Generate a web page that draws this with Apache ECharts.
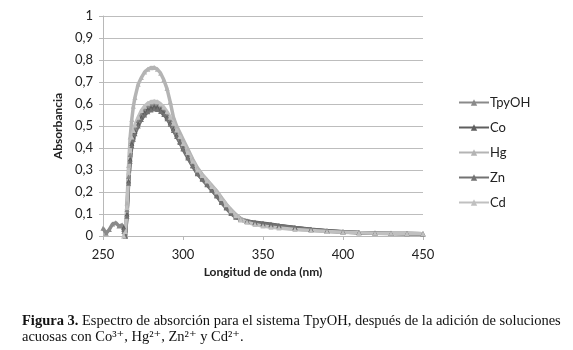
<!DOCTYPE html>
<html>
<head>
<meta charset="utf-8">
<script src="https://cdn.jsdelivr.net/npm/echarts@6/dist/echarts.min.js"></script>
<style>
  html, body { margin: 0; padding: 0; background: #fff; }
  #chart { width: 573px; height: 350px; }
</style>
</head>
<body>
<div id="chart"></div>
<script>
const FONT = "Lato, 'Open Sans', sans-serif"
const SERIF = "'Liberation Serif', 'DejaVu Serif', serif"

// wavelengths (nm)
const wavelengths = [250, 252, 254, 256, 258, 260, 262, 263, 264, 265, 266, 267, 268, 269, 270, 272, 274, 276, 278, 280, 282, 284, 286, 288, 290, 292, 294, 296, 298, 300, 303, 306, 309, 312, 315, 318, 321, 324, 327, 330, 333, 336, 340, 345, 350, 355, 360, 370, 380, 390, 400, 410, 420, 430, 440, 450]

const tpyoh = [0.035, 0.012, 0.03, 0.055, 0.06, 0.045, 0.05, 0.02, 0.0, 0.12, 0.27, 0.37, 0.43, 0.46, 0.49, 0.525, 0.555, 0.575, 0.59, 0.598, 0.602, 0.6, 0.59, 0.575, 0.555, 0.53, 0.5, 0.47, 0.44, 0.41, 0.37, 0.33, 0.29, 0.265, 0.24, 0.215, 0.19, 0.16, 0.135, 0.11, 0.09, 0.078, 0.068, 0.06, 0.055, 0.05, 0.046, 0.038, 0.03, 0.024, 0.019, 0.016, 0.014, 0.012, 0.011, 0.01]
const co = [null, null, null, null, null, null, null, 0.04, 0.0, 0.1, 0.25, 0.35, 0.42, 0.45, 0.475, 0.51, 0.54, 0.56, 0.575, 0.583, 0.587, 0.585, 0.575, 0.56, 0.54, 0.515, 0.487, 0.46, 0.43, 0.4, 0.36, 0.32, 0.285, 0.26, 0.235, 0.21, 0.185, 0.155, 0.13, 0.105, 0.087, 0.076, 0.068, 0.062, 0.058, 0.053, 0.048, 0.039, 0.031, 0.024, 0.019, 0.016, 0.014, 0.012, 0.011, 0.01]
const hg = [null, null, null, null, null, null, null, 0.0, 0.02, 0.15, 0.32, 0.45, 0.53, 0.59, 0.63, 0.69, 0.72, 0.745, 0.758, 0.765, 0.766, 0.758, 0.74, 0.71, 0.67, 0.61, 0.54, 0.5, 0.47, 0.44, 0.395, 0.35, 0.31, 0.28, 0.255, 0.23, 0.205, 0.175, 0.145, 0.12, 0.098, 0.08, 0.066, 0.056, 0.048, 0.043, 0.039, 0.032, 0.026, 0.021, 0.018, 0.015, 0.013, 0.012, 0.011, 0.01]
const zn = [null, null, null, null, null, null, null, 0.03, 0.0, 0.09, 0.24, 0.34, 0.41, 0.44, 0.465, 0.5, 0.53, 0.55, 0.565, 0.573, 0.577, 0.575, 0.566, 0.552, 0.533, 0.508, 0.48, 0.452, 0.425, 0.395, 0.355, 0.318, 0.283, 0.258, 0.233, 0.208, 0.182, 0.152, 0.127, 0.102, 0.085, 0.074, 0.066, 0.06, 0.056, 0.051, 0.047, 0.038, 0.03, 0.023, 0.018, 0.015, 0.013, 0.011, 0.01, 0.009]
const cd = [null, null, null, null, null, null, null, 0.0, 0.02, 0.13, 0.29, 0.39, 0.45, 0.48, 0.505, 0.54, 0.57, 0.59, 0.603, 0.61, 0.613, 0.61, 0.6, 0.585, 0.565, 0.54, 0.512, 0.482, 0.452, 0.42, 0.38, 0.34, 0.3, 0.275, 0.25, 0.225, 0.2, 0.17, 0.142, 0.115, 0.092, 0.075, 0.062, 0.052, 0.045, 0.04, 0.036, 0.03, 0.025, 0.02, 0.017, 0.015, 0.013, 0.012, 0.011, 0.01]

const seriesNames = ['TpyOH', 'Co', 'Hg', 'Zn', 'Cd']
const seriesValues = [tpyoh, co, hg, zn, cd]
const seriesColors = ['#8a8a8a', '#5e5e5e', '#b4b4b4', '#727272', '#c0c0c0']

const xTicks = [250, 300, 350, 400, 450]
const yTickLabels = ['0', '0,1', '0,2', '0,3', '0,4', '0,5', '0,6', '0,7', '0,8', '0,9', '1']

const chart = echarts.init(document.getElementById('chart'))

chart.setOption({
  animation: false,
  backgroundColor: '#fff',
  grid: { left: 103, right: 150, top: 16, bottom: 114 },
  legend: {
    orient: 'vertical',
    left: 453,
    top: 91,
    itemWidth: 30,
    itemHeight: 8,
    itemGap: 12,
    textStyle: { fontFamily: FONT, fontSize: 13, color: '#222', padding: [0, 0, 0, -4] },
    data: seriesNames,
  },
  xAxis: {
    type: 'value',
    min: xTicks[0],
    max: xTicks[xTicks.length - 1],
    interval: 50,
    name: 'Longitud de onda (nm)',
    nameLocation: 'middle',
    nameGap: 30,
    nameTextStyle: { fontFamily: FONT, fontSize: 12, fontWeight: 'bold', color: '#222' },
    axisLine: { lineStyle: { color: '#b8b8b8' } },
    axisTick: { show: true, length: 4, lineStyle: { color: '#b8b8b8' } },
    axisLabel: { fontFamily: FONT, fontSize: 13, color: '#222', margin: 12 },
    splitLine: { show: false },
  },
  yAxis: {
    type: 'value',
    min: 0,
    max: 1,
    interval: 0.1,
    name: 'Absorbancia',
    nameLocation: 'middle',
    nameGap: 38,
    nameTextStyle: { fontFamily: FONT, fontSize: 12, fontWeight: 'bold', color: '#222' },
    axisLine: { show: true, lineStyle: { color: '#b8b8b8' } },
    axisTick: { show: true, length: 4, lineStyle: { color: '#b8b8b8' } },
    axisLabel: {
      fontFamily: FONT, fontSize: 13, color: '#222', margin: 10,
      formatter: v => yTickLabels[Math.round(v * 10)],
    },
    splitLine: { lineStyle: { color: '#bdbdbd' } },
  },
  series: seriesNames.map((name, i) => ({
    name,
    type: 'line',
    data: wavelengths.map((w, j) => [w, seriesValues[i][j]]),
    connectNulls: false,
    symbol: 'triangle',
    symbolSize: 5,
    showSymbol: true,
    color: seriesColors[i],
    lineStyle: { width: 3.5, color: seriesColors[i] },
    itemStyle: { color: seriesColors[i] },
  })),
  graphic: [
    {
      type: 'text',
      left: 22,
      top: 314,
      style: {
        text: '{b|Figura 3.} Espectro de absorción para el sistema TpyOH, después de la adición de soluciones',
        font: `14.5px ${SERIF}`,
        fill: '#111',
        rich: { b: { fontFamily: SERIF, fontSize: 14.5, fontWeight: 'bold', fill: '#111' } },
      },
    },
    {
      type: 'text',
      left: 22,
      top: 330,
      style: {
        text: 'acuosas con Co³⁺, Hg²⁺, Zn²⁺ y Cd²⁺.',
        font: `14.5px ${SERIF}`,
        fill: '#111',
      },
    },
  ],
})
</script>
</body>
</html>
